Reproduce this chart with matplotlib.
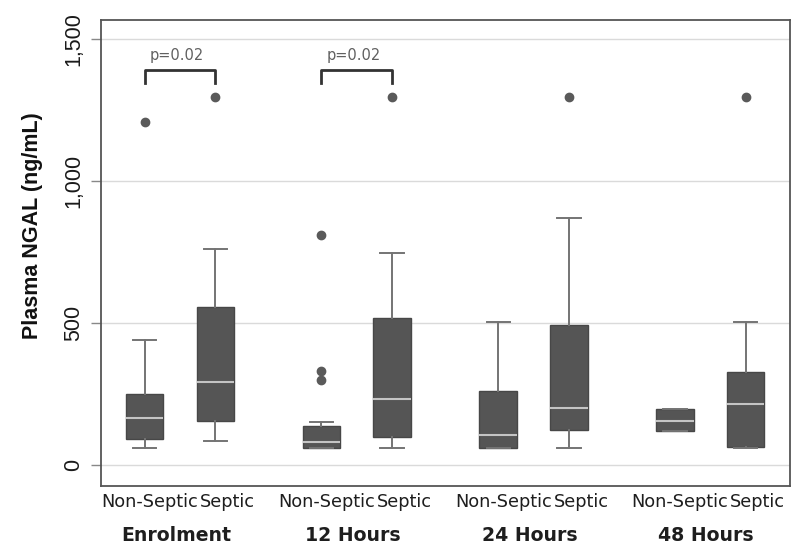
import matplotlib.pyplot as plt
import matplotlib.ticker as mticker

plt.rcParams['font.family'] = ['Liberation Sans', 'DejaVu Sans']

# Box summaries (ng/mL)
timepoints = ["Enrolment", "12 Hours", "24 Hours", "48 Hours"]
groups = ["Non-Septic", "Septic"]
q1 = [90, 154, 60, 98, 60, 123, 119, 64]
med = [166, 292, 82, 231, 105, 202, 155, 216]
q3 = [251, 557, 137, 517, 259, 492, 196, 328]
whislo = [60, 83, 60, 60, 60, 60, 119, 60]
whishi = [441, 760, 151, 746, 505, 869, 196, 505]
fliers = [[1209], [1297], [300, 330, 810], [1297], [], [1297], [], [1297]]
pvals = ["p=0.02", "p=0.02"]

stats = []
for i in range(8):
    stats.append(dict(q1=q1[i], med=med[i], q3=q3[i], whislo=whislo[i],
                      whishi=whishi[i], fliers=fliers[i], label=""))

positions = []
for g in range(len(timepoints)):
    positions += [g * 2.5, g * 2.5 + 1]

fig = plt.figure(figsize=(8, 5.48), dpi=100)
ax = fig.add_axes([0.126, 0.1131, 0.861, 0.850])

ax.bxp(stats, positions=positions, widths=0.53, patch_artist=True,
       boxprops=dict(facecolor='#555555', edgecolor='#474747', linewidth=1),
       medianprops=dict(color='#c4c4c4', linewidth=1.5),
       whiskerprops=dict(color='#747474', linewidth=1.4),
       capprops=dict(color='#747474', linewidth=1.4),
       capwidths=0.33,
       flierprops=dict(marker='o', markerfacecolor='#5a5a5a', markeredgecolor='#5a5a5a',
                       markersize=6))

ax.set_xlim(-0.62, 9.12)
ax.set_ylim(-74, 1567)
ax.set_yticks([0, 500, 1000, 1500])
ax.yaxis.set_major_formatter(mticker.StrMethodFormatter('{x:,.0f}'))
ax.grid(axis='y', color='#dadada', linewidth=1)
ax.set_axisbelow(True)
ax.tick_params(axis='y', labelsize=15.5, color='#888888', labelcolor='#1a1a1a',
               length=7, width=1, pad=5)
for lbl in ax.get_yticklabels():
    lbl.set_rotation(90)
    lbl.set_va('center')

# group tick labels (drawn as text so they can sit like the original)
ax.set_xticks([])
for i, x in enumerate(positions):
    shift = 0.07 if i % 2 == 0 else 0.17
    ax.text(x + shift, -0.034, groups[i % 2], transform=ax.get_xaxis_transform(),
            ha='center', va='center', fontsize=12.8, family='DejaVu Sans',
            color='#1e1e1e')

for g, name in enumerate(timepoints):
    ax.text(g * 2.5 + 0.44, -0.107, name, transform=ax.get_xaxis_transform(),
            ha='center', va='center', fontsize=13.6, fontweight='bold',
            family='DejaVu Sans', color='#1e1e1e')

ax.set_ylabel("Plasma NGAL (ng/mL)", fontsize=15.5, fontweight='bold', color='#111111')
ax.yaxis.set_label_coords(-0.084, 0.559)

for s in ax.spines.values():
    s.set_color('#555555')
    s.set_linewidth(1.3)

# significance brackets
for g, p in enumerate(pvals):
    x0, x1 = g * 2.5, g * 2.5 + 1
    ax.plot([x0, x0, x1, x1], [1345, 1391, 1391, 1345], color='#333333', linewidth=2)
    ax.text((x0 + x1) / 2 - 0.05, 1444, p, ha='center', va='center', fontsize=10.5,
            family='DejaVu Sans', color='#606060')

fig.savefig('out.png', dpi=100)
